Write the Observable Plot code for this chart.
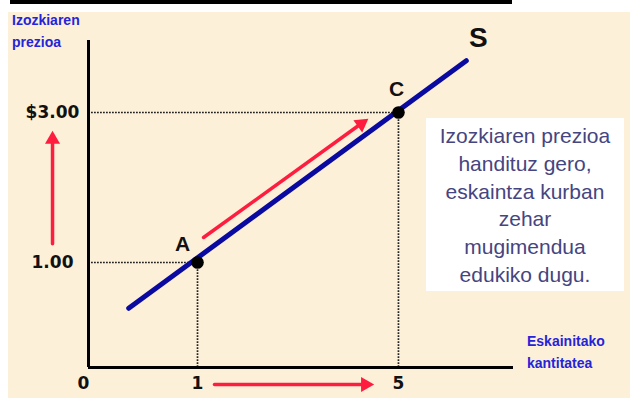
<!DOCTYPE html>
<html>
<head>
<meta charset="utf-8">
<script src="https://cdn.jsdelivr.net/npm/d3@7"></script>
<script src="https://cdn.jsdelivr.net/npm/@observablehq/plot@0.6"></script>
<style>
  html, body { margin: 0; padding: 0; background: #ffffff; }
  #wrap { position: relative; width: 630px; height: 400px; background: #ffffff; overflow: hidden; }
  #cream { position: absolute; left: 8px; top: 12px; right: 0; bottom: 2px; background: #fdf0d8; }
  #bar { position: absolute; left: 10px; top: 0; width: 502px; height: 4px; background: #000; }
  #chart { position: absolute; left: 0; top: 0; }
  .atitle { position: absolute; font-family: "Liberation Sans", Arial, sans-serif; font-weight: bold;
            font-size: 14px; line-height: 22px; color: #2424d8; white-space: nowrap; }
  #box { position: absolute; left: 426px; top: 118px; width: 198px; height: 173px; background: #ffffff;
         font-family: "Liberation Sans", Arial, sans-serif; font-size: 21px; line-height: 27.8px;
         color: #45457f; text-align: center; padding-top: 4px; box-sizing: border-box; }
</style>
</head>
<body>
<div id="wrap">
  <div id="cream"></div>
  <div id="bar"></div>
  <div id="chart"></div>
  <div class="atitle" style="left:12px;top:9px;">Izozkiaren<br>prezioa</div>
  <div class="atitle" style="left:527px;top:330px;">Eskainitako<br>kantitatea</div>
  <div id="box">Izozkiaren prezioa<br>handituz gero,<br>eskaintza kurban<br>zehar<br>mugimendua<br>edukiko dugu.</div>
</div>
<script>
// ---- data (schematic units) ----
const Q_MIN = -1.17, Q_MAX = 7.29;     // x-axis extent (origin .. end)
const P_MIN = -0.4, P_MAX = 3.96;      // y-axis extent (origin .. top)

const pointLabels = ["A", "C"];
const pointQuantity = [1, 5];
const pointPrice = [1, 3];

const supplyQuantity = [-0.37, 6.35];
const supplyPrice = [0.39, 3.69];

const xTickValues = [Q_MIN, 1, 5];
const xTickLabels = ["0", "1", "5"];
const yTickValues = [1, 3];
const yTickLabels = ["1.00", "$3.00"];

// red arrows: [x1, y1, x2, y2]
const arrowUp = [-1.886, 1.25, -1.886, 2.76];
const arrowRight = [1.338, -0.627, 4.522, -0.627];
const arrowDiag = [1.12, 1.333, 4.40, 2.92];

const points = pointLabels.map((l, i) => ({label: l, q: pointQuantity[i], p: pointPrice[i]}));
const supply = supplyQuantity.map((q, i) => ({q, p: supplyPrice[i]}));
const xTicks = xTickValues.map((v, i) => ({v, t: xTickLabels[i]}));
const yTicks = yTickValues.map((v, i) => ({v, t: yTickLabels[i]}));

const RED = "#ff1d3f";
const dotted = {stroke: "#222", strokeWidth: 1.7, strokeDasharray: "1.8,1.2"};
const tickFont = {fontSize: 17, fontWeight: "bold", fontFamily: "DejaVu Sans", fill: "#111"};
const letterFont = {fontWeight: "bold", fontFamily: "Liberation Sans", fill: "#111"};

function arrowMarks(a, rot, dx, dy) {
  return [
    Plot.arrow([a], {x1: d => d[0], y1: d => d[1], x2: d => d[2], y2: d => d[3],
      stroke: RED, strokeWidth: 3.5, headLength: 0, insetEnd: 9}),
    Plot.dot([a], {x: d => d[2], y: d => d[3], symbol: "triangle", r: 5.6,
      fill: RED, stroke: "none", rotate: rot, dx, dy})
  ];
}

const chart = Plot.plot({
  width: 630,
  height: 400,
  marginLeft: 88,
  marginRight: 117,
  marginTop: 40,
  marginBottom: 33,
  style: {background: "transparent", overflow: "visible"},
  x: {type: "linear", domain: [Q_MIN, Q_MAX], axis: null},
  y: {type: "linear", domain: [P_MIN, P_MAX], axis: null},
  marks: [
    // dotted guides
    Plot.ruleY(points, {y: "p", x1: Q_MIN, x2: "q", ...dotted}),
    Plot.ruleX(points, {x: "q", y1: P_MIN, y2: "p", ...dotted}),
    // axes
    Plot.ruleX([Q_MIN], {y1: P_MIN, y2: P_MAX, stroke: "#000", strokeWidth: 3}),
    Plot.ruleY([P_MIN], {x1: Q_MIN, x2: Q_MAX, stroke: "#000", strokeWidth: 3}),
    // tick labels
    Plot.text(xTicks, {filter: d => d.v === Q_MIN, x: "v", y: P_MIN, text: "t", dx: -5, dy: 16, ...tickFont}),
    Plot.text(xTicks, {filter: d => d.v !== Q_MIN, x: "v", y: P_MIN, text: "t", dy: 16, ...tickFont}),
    Plot.text(yTicks, {x: Q_MIN, y: "v", text: "t", dx: -36, ...tickFont}),
    // arrows
    ...arrowMarks(arrowUp, 0, 0, 9),
    ...arrowMarks(arrowRight, 90, -9, 0),
    ...arrowMarks(arrowDiag, 54.2, -7, 5.3),
    // supply curve
    Plot.line(supply, {x: "q", y: "p", stroke: "#0a0aa0", strokeWidth: 5}),
    // points
    Plot.dot(points, {x: "q", y: "p", r: 6.3, fill: "#000"}),
    Plot.text(points, {filter: d => d.label === "A", x: "q", y: "p", text: "label",
      fontSize: 21, ...letterFont, dx: -15, dy: -18}),
    Plot.text(points, {filter: d => d.label === "C", x: "q", y: "p", text: "label",
      fontSize: 21, ...letterFont, dx: -2, dy: -23}),
    Plot.text(["S"], {x: supplyQuantity[1], y: supplyPrice[1], text: d => d, fontSize: 28,
      ...letterFont, dx: 12, dy: -23})
  ]
});
document.getElementById("chart").appendChild(chart);
</script>
</body>
</html>
